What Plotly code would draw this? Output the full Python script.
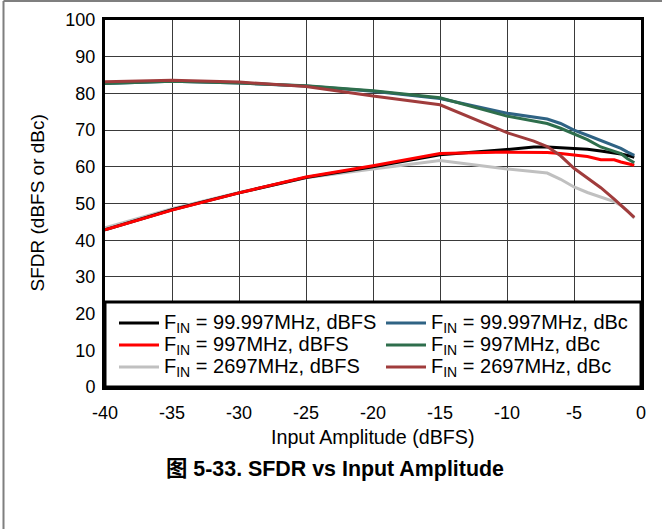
import plotly.graph_objects as go

# ---- data ----
x_dbfs_in = [-40, -35, -30, -25, -20, -15, -10, -8, -7, -6, -5, -4, -3, -2, -1.5, -1, -0.5]

sfdr_100_dbfs = [42.8, 48.3, 52.9, 57.1, 60.0, 63.3, 64.7, 65.4, 65.4, 65.2, 65.0, 64.8, 64.3, 63.9, 63.5, 63.1, 62.6]
sfdr_997_dbfs = [42.8, 48.2, 52.9, 57.2, 60.3, 63.6, 64.0, 64.0, 63.9, 63.6, 63.2, 62.8, 61.9, 61.9, 61.3, 60.8, 60.4]
sfdr_2697_dbfs = [43.4, 48.6, 53.0, 57.0, 59.4, 61.7, 59.4, 58.7, 58.3, 56.6, 54.5, 53.0, 51.8, 50.5, 49.5, 48.0, 46.0]
sfdr_100_dbc = [82.7, 83.3, 82.8, 82.0, 80.6, 78.6, 74.6, 73.6, 73.0, 71.8, 70.0, 68.6, 67.2, 65.8, 65.0, 64.0, 63.1]
sfdr_997_dbc = [82.7, 83.3, 82.8, 82.1, 80.7, 78.8, 73.8, 72.6, 71.8, 70.5, 69.0, 67.4, 65.4, 64.3, 63.6, 62.2, 61.1]
sfdr_2697_dbc = [83.2, 83.6, 83.1, 81.9, 79.3, 76.9, 69.3, 67.0, 65.5, 63.0, 59.6, 56.9, 54.3, 51.2, 49.6, 48.0, 46.2]

series_names = [
    "F<sub>IN</sub> = 99.997MHz, dBFS",
    "F<sub>IN</sub> = 997MHz, dBFS",
    "F<sub>IN</sub> = 2697MHz, dBFS",
    "F<sub>IN</sub> = 99.997MHz, dBc",
    "F<sub>IN</sub> = 997MHz, dBc",
    "F<sub>IN</sub> = 2697MHz, dBc",
]
x_ticks = [-40, -35, -30, -25, -20, -15, -10, -5, 0]
y_ticks = [0, 10, 20, 30, 40, 50, 60, 70, 80, 90, 100]

x_title = "Input Amplitude (dBFS)"
y_title = "SFDR (dBFS or dBc)"
caption = "图 5-33. SFDR vs Input Amplitude"

FONT = "Liberation Sans, Arial, Helvetica, sans-serif"

# (values, name index, color, legend rank); listed in drawing order
traces = [
    (sfdr_2697_dbfs, 2, "#c0c0c0", 5),
    (sfdr_100_dbfs, 0, "#000000", 1),
    (sfdr_997_dbfs, 1, "#ff0000", 3),
    (sfdr_100_dbc, 3, "#2f6384", 2),
    (sfdr_997_dbc, 4, "#2e6e4c", 4),
    (sfdr_2697_dbc, 5, "#a03c3c", 6),
]

fig = go.Figure()
for vals, idx, col, rank in traces:
    fig.add_trace(go.Scatter(
        x=x_dbfs_in, y=vals, mode="lines",
        name='<span style="font-size:20px">' + series_names[idx] + "</span>",
        line=dict(color=col, width=3), legendrank=rank,
    ))

W, H = 662, 529
L, R, T, B = 105, 21, 20, 142
pw, ph = W - L - R, H - T - B

def px_x(p):
    return (p - L) / pw

def px_y(p):
    return (H - B - p) / ph

fig.update_layout(
    width=W, height=H,
    margin=dict(l=L, r=R, t=T, b=B, autoexpand=False),
    paper_bgcolor="white", plot_bgcolor="white",
    font=dict(family=FONT, size=18, color="black"),
    showlegend=True,
    legend=dict(
        orientation="h", x=px_x(114), y=px_y(307), xanchor="left", yanchor="top",
        bgcolor="rgba(0,0,0,0)", borderwidth=0,
        entrywidth=212, entrywidthmode="pixels", itemwidth=40,
        font=dict(family=FONT, size=14.6, color="black"),
        tracegroupgap=0,
    ),
    xaxis=dict(
        range=[-40, 0], tickvals=x_ticks, ticktext=[str(v) for v in x_ticks],
        showgrid=True, gridcolor="#3a3a3a", gridwidth=1,
        showline=True, linecolor="black", linewidth=3, mirror=True,
        ticks="", zeroline=False, tickfont=dict(size=18), ticklabelstandoff=7,
        fixedrange=True,
    ),
    yaxis=dict(
        range=[0, 100], tickvals=y_ticks, ticktext=[str(v) for v in y_ticks],
        showgrid=True, gridcolor="#3a3a3a", gridwidth=1,
        showline=True, linecolor="black", linewidth=3, mirror=True,
        ticks="", zeroline=False, tickfont=dict(size=18), ticklabelstandoff=3,
        fixedrange=True,
    ),
    shapes=[
        # legend box
        dict(type="rect", xref="paper", yref="paper", x0=0, x1=1, y0=0, y1=px_y(302),
             fillcolor="white", line=dict(color="black", width=3), layer="above"),
        # outer frame (top and left edges)
        dict(type="line", xref="paper", yref="paper", x0=px_x(3.5), x1=px_x(700),
             y0=px_y(1), y1=px_y(1), line=dict(color="#7f7f7f", width=2)),
        dict(type="line", xref="paper", yref="paper", x0=px_x(3.5), x1=px_x(3.5),
             y0=px_y(1), y1=px_y(600), line=dict(color="#7f7f7f", width=2)),
    ],
    annotations=[
        dict(text=x_title, xref="paper", yref="paper", x=px_x(373), y=px_y(437),
             xanchor="center", yanchor="middle", showarrow=False,
             font=dict(family=FONT, size=19.7)),
        dict(text=y_title, xref="paper", yref="paper", x=px_x(37), y=0.5,
             xanchor="center", yanchor="middle", showarrow=False, textangle=-90,
             font=dict(family=FONT, size=19)),
        dict(text="<b>" + caption + "</b>", xref="paper", yref="paper",
             x=px_x(335), y=px_y(469), xanchor="center", yanchor="middle", showarrow=False,
             font=dict(family="Liberation Sans, Arial, Noto Sans CJK SC, sans-serif", size=21.4)),
    ],
)

fig.write_html("out.html", config={"displayModeBar": False},
               post_script="document.body.style.margin='0';")
